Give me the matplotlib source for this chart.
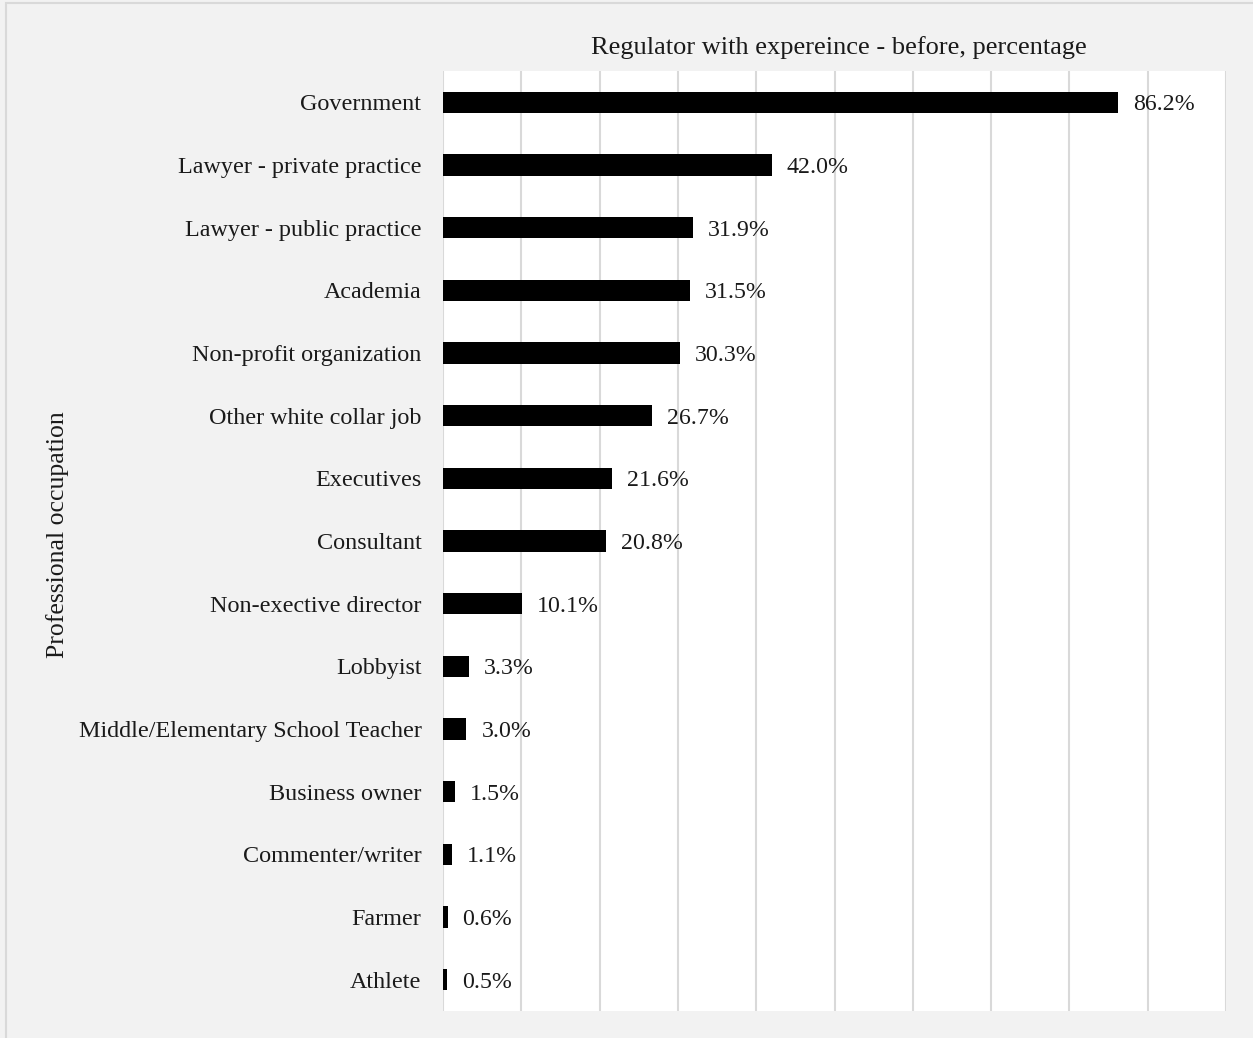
import matplotlib.pyplot as plt
from matplotlib.patches import Rectangle

# occupations listed top to bottom, share of regulators with that experience
occupations = [
    "Government", "Lawyer - private practice", "Lawyer - public practice",
    "Academia", "Non-profit organization", "Other white collar job",
    "Executives", "Consultant", "Non-exective director", "Lobbyist",
    "Middle/Elementary School Teacher", "Business owner", "Commenter/writer",
    "Farmer", "Athlete",
]
percent = [86.2, 42.0, 31.9, 31.5, 30.3, 26.7, 21.6, 20.8, 10.1, 3.3,
           3.0, 1.5, 1.1, 0.6, 0.5]

plt.rcParams['font.family'] = ['Liberation Serif', 'DejaVu Serif']

W, H = 1253, 1038
fig = plt.figure(figsize=(W / 100, H / 100), dpi=100)
fig.patch.set_facecolor('#f2f2f2')

# thin outer frame
fig.patches.append(Rectangle((6 / W, -0.01), 1.2, 1 - 3 / H + 0.01,
                             transform=fig.transFigure, fill=False,
                             edgecolor='#d9d9d9', linewidth=1.5))

left, right, top, bottom = 443, 1226, 71, 1011
ax = fig.add_axes([left / W, 1 - bottom / H, (right - left) / W, (bottom - top) / H])
ax.set_facecolor('white')

n = len(occupations)
ypos = list(range(n))
ax.barh(ypos, percent, height=0.345, color='black', zorder=3)
ax.set_ylim(n - 0.5, -0.5)
ax.set_xlim(0, 100)

for y, v in zip(ypos, percent):
    ax.text(v + 1.9, y, f"{v:.1f}%", va='center_baseline', ha='left',
            fontsize=17.2, color='#1a1a1a', zorder=4)

ax.set_xticks(range(0, 101, 10))
ax.xaxis.grid(True, color='#d9d9d9', linewidth=1.5, zorder=0)
ax.tick_params(axis='x', length=0, labelbottom=False)
ax.set_yticks(ypos)
ax.set_yticklabels(occupations, fontsize=17.4, color='#1a1a1a',
                   va='center_baseline')
ax.tick_params(axis='y', length=0, pad=15.5)
for s in ax.spines.values():
    s.set_visible(False)

ax.set_ylabel("Professional occupation", fontsize=18.5, color='#1a1a1a')
ax.yaxis.set_label_coords(-(left - 69) / (right - left), 0.5 + 6 / (bottom - top))

fig.text((left + right) / 2 / W + 4 / W, 1 - 45 / H,
         "Regulator with expereince - before, percentage",
         ha='center', va='center_baseline', fontsize=19, color='#1a1a1a')

fig.savefig('out.png', dpi=100, facecolor=fig.get_facecolor())
